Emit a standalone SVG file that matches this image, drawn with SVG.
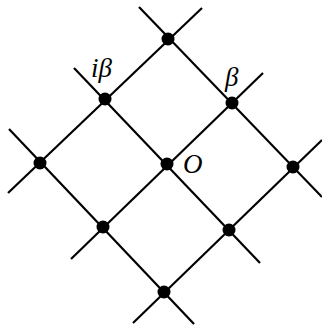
<svg xmlns="http://www.w3.org/2000/svg" width="322" height="326" viewBox="0 0 322 326">
<style>
.ln{stroke:#000;stroke-width:2.2;fill:none;stroke-linecap:butt}
.pt{fill:#000}
.lb{font-family:"Liberation Serif","Times New Roman",serif;font-style:italic;fill:#000;font-size:27px}
</style>
<rect width="322" height="326" fill="#fff"/>
<g id="connectors">
<line class="ln" x1="139" y1="7" x2="322" y2="197"/>
<line class="ln" x1="74" y1="68" x2="260" y2="263"/>
<line class="ln" x1="9" y1="129" x2="194" y2="324"/>
<line class="ln" x1="8" y1="193" x2="202" y2="8"/>
<line class="ln" x1="71" y1="259" x2="263" y2="73"/>
<line class="ln" x1="133" y1="323" x2="322" y2="140"/>
</g>
<g id="n-top"><circle class="pt" cx="168" cy="39" r="6.5"/></g>
<g id="n-ibeta"><circle class="pt" cx="105" cy="99" r="6.5"/><text class="lb" x="91" y="77">iβ</text></g>
<g id="n-beta"><circle class="pt" cx="232" cy="103" r="6.5"/><text class="lb" x="225" y="86">β</text></g>
<g id="n-left"><circle class="pt" cx="40" cy="163" r="6.5"/></g>
<g id="n-O"><circle class="pt" cx="167" cy="164" r="6.5"/><text class="lb" x="183" y="173">O</text></g>
<g id="n-right"><circle class="pt" cx="293" cy="167" r="6.5"/></g>
<g id="n-bl"><circle class="pt" cx="103" cy="227" r="6.5"/></g>
<g id="n-br"><circle class="pt" cx="229" cy="230" r="6.5"/></g>
<g id="n-bottom"><circle class="pt" cx="164" cy="292" r="6.5"/></g>
</svg>
